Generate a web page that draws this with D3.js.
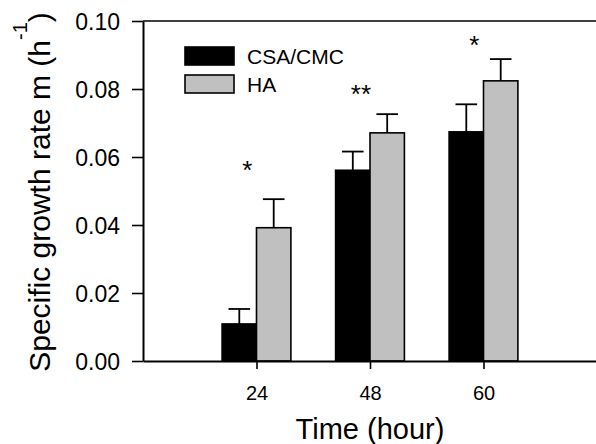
<!DOCTYPE html>
<html>
<head>
<meta charset="utf-8">
<script src="https://cdn.jsdelivr.net/npm/d3@7"></script>
<style>
  html, body { margin: 0; padding: 0; background: #fff; }
  svg { display: block; font-family: "Liberation Sans", Arial, sans-serif; }
</style>
</head>
<body>
<svg id="chart" width="596" height="444"></svg>
<script>
// ---- data ----
const categories = ["24", "48", "60"];
const seriesNames = ["CSA/CMC", "HA"];
const csaValues = [0.0109, 0.0561, 0.0674];
const csaErrors = [0.0044, 0.0055, 0.0081];
const haValues  = [0.0392, 0.0671, 0.0824];
const haErrors  = [0.0084, 0.0055, 0.0064];
const sigLabels = ["*", "**", "*"];
const sigHeights = [0.0580, 0.0803, 0.0947];
const yTicks = [0.00, 0.02, 0.04, 0.06, 0.08, 0.10];

const seriesColors = ["#000000", "#c0c0c0"];

const svg = d3.select("#chart");
const L = 143, R = 597, T = 21, B = 361;

const x = d3.scaleLinear().domain([0, categories.length + 1]).range([L, R]);
const y = d3.scaleLinear().domain([0, 0.10]).range([B, T]);
const unit = x(1) - x(0);
const barW = 34.4;
const sub = d3.scaleBand().domain(seriesNames).range([-barW, barW]).paddingInner(0);

const rows = categories.map((c, i) => ({
  cat: c, i: i + 1,
  vals: [
    {s: seriesNames[0], v: csaValues[i], e: csaErrors[i], color: seriesColors[0]},
    {s: seriesNames[1], v: haValues[i], e: haErrors[i], color: seriesColors[1]}
  ]
}));

// bars
const g = svg.append("g");
rows.forEach(r => {
  r.vals.forEach(d => {
    const bx = x(r.i) + sub(d.s);
    // error bar
    const cx = bx + sub.bandwidth() / 2;
    g.append("line").attr("x1", cx).attr("x2", cx)
      .attr("y1", y(d.v)).attr("y2", y(d.v + d.e))
      .attr("stroke", "#000").attr("stroke-width", 1.8);
    g.append("line").attr("x1", cx - 10.8).attr("x2", cx + 10.8)
      .attr("y1", y(d.v + d.e)).attr("y2", y(d.v + d.e))
      .attr("stroke", "#000").attr("stroke-width", 1.8);
    g.append("rect")
      .attr("x", bx).attr("y", y(d.v))
      .attr("width", sub.bandwidth()).attr("height", y(0) - y(d.v))
      .attr("fill", d.color).attr("stroke", "#000").attr("stroke-width", 1.6);
  });
});

// significance marks
rows.forEach((r, i) => {
  svg.append("text")
    .attr("x", x(r.i) - 0.08 * unit)
    .attr("y", y(sigHeights[i]) + 15)
    .attr("text-anchor", "middle")
    .attr("font-size", 26)
    .text(sigLabels[i]);
});

// top frame line
svg.append("line").attr("x1", L).attr("x2", R).attr("y1", T).attr("y2", T)
  .attr("stroke", "#000").attr("stroke-width", 1.6);

// axes
const yAxis = d3.axisLeft(y).tickValues(yTicks).tickFormat(d3.format(".2f")).tickSize(11).tickSizeOuter(0);
const ya = svg.append("g").attr("transform", `translate(${L},0)`).call(yAxis);
ya.select(".domain").attr("stroke-width", 2);
ya.selectAll(".tick line").attr("stroke-width", 1.6);
ya.selectAll("text").attr("font-size", 23).attr("fill", "#000").attr("x", -23).attr("dy", "0.36em")
  .attr("font-family", "Liberation Sans, Arial, sans-serif");

const xAxis = d3.axisBottom(x).tickValues(categories.map((c, i) => i + 1))
  .tickFormat((d) => categories[d - 1]).tickSize(8).tickSizeOuter(0);
const xa = svg.append("g").attr("transform", `translate(0,${B})`).call(xAxis);
xa.select(".domain").attr("stroke-width", 2.2);
xa.selectAll(".tick line").attr("stroke-width", 1.6);
xa.selectAll("text").attr("font-size", 20).attr("fill", "#000").attr("y", 25).attr("dy", "0.71em")
  .attr("font-family", "Liberation Sans, Arial, sans-serif");

// axis titles
svg.append("text")
  .attr("x", 370).attr("y", 439)
  .attr("text-anchor", "middle").attr("font-size", 29)
  .text("Time (hour)");

const yt = svg.append("text")
  .attr("transform", "translate(50,192) rotate(-90)")
  .attr("text-anchor", "middle").attr("font-size", 30);
yt.append("tspan").text("Specific growth rate m (h");
yt.append("tspan").attr("font-size", 20).attr("dy", -23).text("-1");
yt.append("tspan").attr("dy", 23).text(")");

// legend
const leg = svg.append("g");
seriesNames.forEach((s, i) => {
  leg.append("rect").attr("x", 185).attr("y", 47 + i * 28).attr("width", 49).attr("height", 18)
    .attr("fill", seriesColors[i]).attr("stroke", "#000").attr("stroke-width", 1.6);
  leg.append("text").attr("x", 247).attr("y", 64 + i * 28)
    .attr("font-size", 21).text(s);
});
</script>
</body>
</html>
